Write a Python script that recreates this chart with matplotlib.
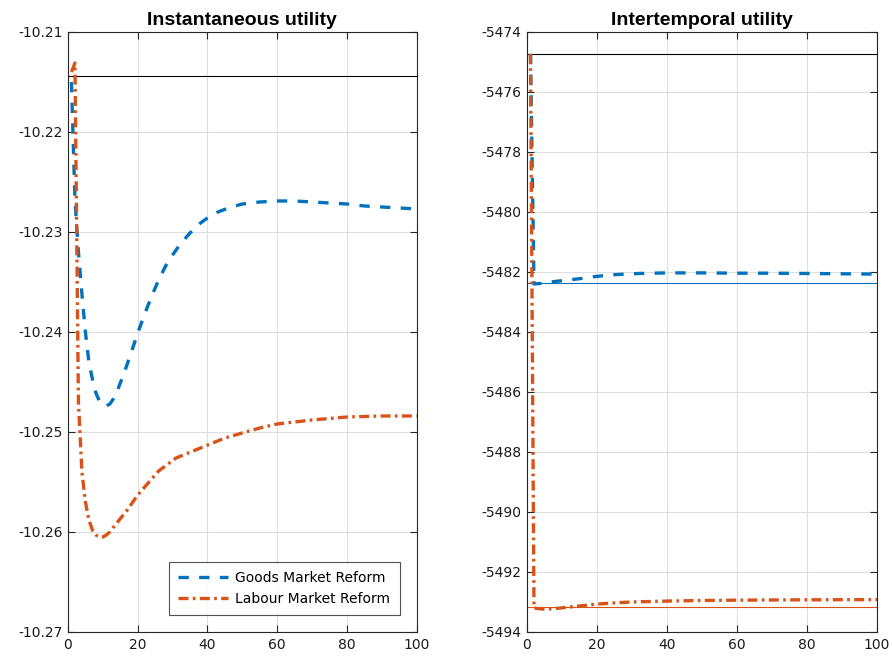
import matplotlib.pyplot as plt

plt.rcParams['font.family'] = ['DejaVu Sans']

BLUE = '#0072BD'
ORANGE = '#D95319'

## Instantaneous utility
t_goods_inst = [1, 2, 3, 4, 5, 6, 7, 8, 9, 10, 11, 12, 13, 14, 15, 16, 18, 20, 22, 24,
                26, 28, 30, 32, 35, 38, 40, 43, 46, 50, 55, 60, 65, 70, 75, 80, 85, 90, 95, 100]
goods_inst = [-10.2150, -10.2268, -10.2320, -10.2362, -10.2400, -10.2430, -10.2447, -10.2461,
              -10.2469, -10.2473, -10.2474, -10.2472, -10.2467, -10.2460, -10.2451, -10.2442,
              -10.2422, -10.2401, -10.2382, -10.2364, -10.2348, -10.2334, -10.2323, -10.2313,
              -10.2301, -10.2291, -10.2286, -10.2280, -10.2276, -10.2272, -10.2270, -10.2269,
              -10.2269, -10.2270, -10.2271, -10.2272, -10.2274, -10.2275, -10.2276, -10.2277]

t_labour_inst = [1, 2, 3, 4, 5, 6, 7, 8, 9, 10, 11, 12, 14, 17, 20, 22, 26, 31, 38, 45,
                 50, 55, 60, 70, 80, 90, 100]
labour_inst = [-10.2140, -10.2131, -10.2470, -10.2540, -10.2570, -10.2588, -10.2598, -10.2603,
               -10.2605, -10.2605, -10.2603, -10.2600, -10.2591, -10.2578, -10.2563, -10.2555,
               -10.2539, -10.2526, -10.2516, -10.2506, -10.2501, -10.2496, -10.2492, -10.2488,
               -10.2485, -10.2484, -10.2484]
ss_inst = -10.2144

## Intertemporal utility
t_goods_int = [1, 2, 4, 7, 10, 13, 16, 19, 22, 25, 28, 32, 36, 40, 50, 60, 70, 80, 90, 100]
goods_int = [-5474.73, -5482.40, -5482.38, -5482.33, -5482.29, -5482.25, -5482.21, -5482.16,
             -5482.12, -5482.09, -5482.07, -5482.05, -5482.04, -5482.03, -5482.03, -5482.04,
             -5482.04, -5482.05, -5482.06, -5482.07]
t_labour_int = [1, 2, 3, 5, 8, 12, 16, 20, 25, 30, 40, 50, 60, 75, 100]
labour_int = [-5474.73, -5493.20, -5493.22, -5493.24, -5493.22, -5493.17, -5493.12, -5493.07,
              -5493.03, -5493.00, -5492.97, -5492.95, -5492.94, -5492.93, -5492.92]
ss_int = -5474.73
goods_ref_int = -5482.38
labour_ref_int = -5493.17

inst_ticks = [-10.27, -10.26, -10.25, -10.24, -10.23, -10.22, -10.21]
inst_labels = ['-10.27', '-10.26', '-10.25', '-10.24', '-10.23', '-10.22', '-10.21']
int_ticks = [-5494, -5492, -5490, -5488, -5486, -5484, -5482, -5480, -5478, -5476, -5474]
x_ticks = [0, 20, 40, 60, 80, 100]

fig = plt.figure(figsize=(8.92, 6.61), dpi=100)
ax1 = fig.add_axes([0.0762, 0.0439, 0.391, 0.9077])
ax2 = fig.add_axes([0.5908, 0.0439, 0.3924, 0.9077])

lw = 2.4
dash = (3.1, 3.1)
dashdot = (3.0, 1.3, 0.8, 1.3)

def style(ax, title):
    ax.set_xlim(0, 100)
    ax.set_xticks(x_ticks)
    ax.grid(True, color='#dfdfdf', linewidth=0.8)
    ax.set_axisbelow(True)
    ax.tick_params(direction='in', length=5, width=0.8, top=True, right=True,
                   labelsize=10, colors='#262626', labelcolor='#1a1a1a', pad=4)
    for s in ax.spines.values():
        s.set_color('#262626')
        s.set_linewidth(0.8)
    ax.set_title(title, fontweight='bold', fontsize=14, pad=5,
                 family=['Liberation Sans', 'DejaVu Sans'])

ax1.axhline(ss_inst, color='black', linewidth=0.8)
ax1.plot(t_goods_inst, goods_inst, color=BLUE, linewidth=lw, dashes=dash,
         label='Goods Market Reform')
ax1.plot(t_labour_inst, labour_inst, color=ORANGE, linewidth=lw, dashes=dashdot,
         label='Labour Market Reform')
ax1.set_ylim(-10.27, -10.21)
ax1.set_yticks(inst_ticks)
ax1.set_yticklabels(inst_labels)
style(ax1, 'Instantaneous utility')
leg = ax1.legend(loc='lower right', fontsize=10, handlelength=3.6, frameon=True,
                 fancybox=False, edgecolor='#262626', borderaxespad=1.2,
                 borderpad=0.7, labelspacing=0.45, handletextpad=0.5)
leg.get_frame().set_linewidth(0.8)

ax2.axhline(ss_int, color='black', linewidth=0.8)
ax2.axhline(goods_ref_int, color=BLUE, linewidth=0.8)
ax2.axhline(labour_ref_int, color=ORANGE, linewidth=0.8)
ax2.plot(t_goods_int, goods_int, color=BLUE, linewidth=lw, dashes=dash)
ax2.plot(t_labour_int, labour_int, color=ORANGE, linewidth=lw, dashes=dashdot)
ax2.set_ylim(-5494, -5474)
ax2.set_yticks(int_ticks)
ax2.set_yticklabels([str(v) for v in int_ticks])
style(ax2, 'Intertemporal utility')

fig.savefig('out.png', dpi=100)
